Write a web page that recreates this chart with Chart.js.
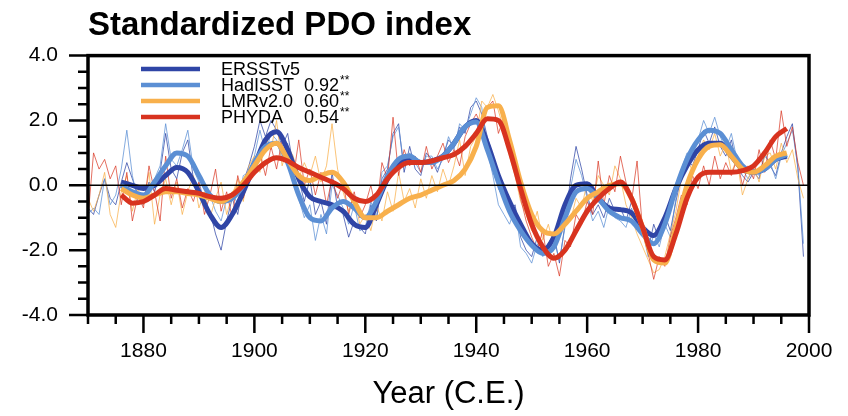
<!DOCTYPE html>
<html>
<head>
<meta charset="utf-8">
<script src="https://cdn.jsdelivr.net/npm/chart.js@4.4.1/dist/chart.umd.min.js"></script>
<style>
  html, body { margin: 0; padding: 0; background: #fff; }
  canvas { display: block; }
</style>
</head>
<body>
<canvas id="pdo" width="848" height="416"></canvas>
<script>
// Series names and correlation with ERSSTv5
const seriesNames = ['ERSSTv5', 'HadISST', 'LMRv2.0', 'PHYDA'];
const corrValues = ['', '0.92', '0.60', '0.54'];

// Axis labels
const xLabelYears = [1880, 1900, 1920, 1940, 1960, 1980, 2000];
const yLabelValues = [-4, -2, 0, 2, 4];

// Annual values, one per year starting in firstYear
const firstYear = 1870;
const ersstAnnual = [
  -0.7, -0.9, -0.3, 0.2, -0.4, -0.6, 0.1, 0.7, 0.2, -0.3,
  -0.5, 0.1, -0.2, 0.4, 1.6, 0.5, 0.2, 1.0, 1.4, 0.2,
  -0.3, -0.6, -0.8, -1.5, -2.0, -1.1, -0.4, -0.9, 0.1, 0.6,
  1.2, 2.0, 1.5, 2.0, 1.7, 1.2, 1.6, 0.6, 0.2, -0.5,
  0.2, -0.9, -0.5, -1.2, 0.4, -0.7, -0.9, -1.6, -1.1, -1.3,
  -1.5, -0.6, -1.1, 0.2, 0.5, 1.6, 1.9, 0.4, 1.2, 0.5,
  0.3, 1.0, 0.8, 0.4, 0.9, 1.4, 1.2, 1.8, 1.6, 2.4,
  2.6, 2.2, 1.5, 0.9, -0.1, -0.4, -0.9, -0.6, -1.6, -2.0,
  -2.2, -1.6, -2.1, -1.8, -1.5, -2.4, -1.2, 0.2, 1.2, 0.5,
  -0.3, -0.9, -0.6, -1.0, -0.4, -0.8, -0.7, -1.1, -0.5, -0.9,
  -1.2, -2.0, -1.2, -1.7, -0.9, -1.4, -0.5, 0.3, 0.8, 0.6,
  1.1, 1.7, 1.3, 1.8, 1.2, 0.9, 1.4, 0.6, 0.3, 0.1,
  0.4, 0.2, 1.0, 0.6, 0.3, 1.0, 1.5, 1.9, 0.5, -2.2
];
const hadisstAnnual = [
  -0.9, -0.7, -0.9, 0.2, -0.6, -0.3, 0.5, 1.7, 0.3, -0.5,
  -0.6, 0.0, 0.2, 0.6, 1.9, 0.8, 0.6, 1.1, 1.7, 0.5,
  0.1, -0.5, -0.3, -0.8, -1.1, -0.4, -0.2, -0.6, 0.3, 0.4,
  0.9, 1.7, 1.0, 1.6, 1.4, 0.8, 1.3, 0.2, -0.4, -1.0,
  -0.6, -1.7, -0.9, -1.5, 0.0, -0.3, -0.7, -1.2, -0.6, -1.4,
  -1.3, -0.5, -1.0, 0.4, 0.6, 1.5, 1.8, 0.6, 1.0, 0.7,
  0.4, 0.9, 0.9, 0.5, 0.8, 1.5, 1.1, 1.9, 1.7, 2.2,
  2.7, 2.4, 1.1, 0.3, -0.6, -0.9, -1.2, -0.7, -1.9, -2.1,
  -2.4, -1.8, -2.2, -2.0, -1.7, -2.3, -1.3, -0.1, 0.8, 0.3,
  -0.4, -1.1, -0.8, -1.3, -0.6, -1.0, -1.1, -1.3, -0.7, -1.2,
  -1.4, -2.2, -1.5, -1.9, -1.2, -1.6, -0.4, 0.5, 1.0, 0.9,
  1.4, 2.0, 1.6, 2.1, 1.5, 1.1, 1.6, 0.8, 0.5, 0.2,
  0.5, 0.3, 0.9, 0.7, 0.2, 0.9, 1.3, 1.7, 0.6, -1.8
];
const lmrAnnual = [
  -0.4, -0.8, -0.3, 0.4, -0.9, -1.3, -0.2, 0.3, -0.8, -0.1,
  -0.6, 0.4, -1.2, -0.3, 0.2, -0.6, 0.1, -0.9, -0.2, 0.3,
  -0.7, -0.2, -1.0, -0.4, 0.1, -0.9, -0.3, 0.2, -0.5, 0.6,
  0.9, 0.4, 1.5, 1.1, 2.0, 0.6, 1.2, 0.9, 0.2, 0.7,
  0.3, 0.9, 0.1, 0.6, 1.9, 0.5, -0.2, -0.8, -0.3, -1.2,
  -0.9, -1.4, -0.6, -1.1, -0.2, -0.8, 0.4, -0.5, -0.1, -0.7,
  0.2, -0.4, 0.3, -0.2, 0.5, 0.0, 0.6, 1.4, 0.3, 1.2,
  1.5, 2.6, 2.4, 2.8, 2.3, 1.7, 0.9, 0.3, -0.5, -0.9,
  -1.4, -0.8, -1.7, -1.2, -1.9, -1.3, -0.8, -1.1, -0.4, -0.7,
  0.1, -0.5, 0.3, 0.0, -0.3, 0.6, 0.2, -0.6, -1.0, -1.5,
  -1.9, -2.3, -2.7, -2.6, -2.2, -1.5, -0.8, 0.2, 0.9, 0.4,
  0.9, 1.4, 1.1, 1.6, 0.9, 1.3, 0.4, 0.8, -0.3, 0.2,
  0.6, 0.1, 0.9, 1.0, 0.5, 1.3, 0.7, 1.1, 0.2, -0.4
];
const phydaAnnual = [
  -1.0, 1.0, 0.5, 0.8, 0.2, 0.6, -0.6, 0.4, -1.1, -0.3,
  -0.7, 0.6, -0.2, -1.1, 0.9, -0.4, 0.2, -0.7, -0.1, -0.5,
  0.1, -0.9, -0.3, 0.5, -0.8, -0.2, -1.0, 0.3, -0.4, 0.2,
  0.6, 1.0, 0.3, 1.2, 0.5, 1.4, 0.8, 0.2, 1.4, 0.0,
  0.5, -0.3, 0.4, -0.6, 0.2, -0.4, 0.1, -0.9, -0.2, -1.0,
  -0.6, 0.0, -0.8, 0.7, 0.2, 2.1, 0.3, 1.1, 0.6, 0.9,
  0.4, 1.2, 0.5, 0.9, 1.3, 0.7, 1.1, 0.6, 1.5, 1.9,
  2.2, 1.8, 2.4, 2.6, 1.6, 2.1, 1.0, 0.5, -0.4, -1.1,
  -1.6, -2.0, -1.4, -2.5, -2.1, -2.8, -1.7, -1.9, -0.9, -1.2,
  -0.5, -0.9, 0.75, -0.6, 0.3, -0.2, 0.9, 0.1, -0.5, 0.75,
  -1.4, -2.1, -2.9, -2.2, -2.5, -1.6, -1.0, -0.3, -0.6, 0.3,
  -0.1, 0.6, 0.0, 0.9, 0.2, 0.7, 0.3, 0.8, 0.0, 0.6,
  0.2, 1.1, 0.4, 1.4, 0.8, 2.3, 1.2, 1.8, 0.7, 0.0
];

// Low-pass filtered values at every second year
const smoothYears = [
  1876, 1878, 1880, 1882, 1884, 1886, 1888, 1890, 1892, 1894,
  1896, 1898, 1900, 1902, 1904, 1906, 1908, 1910, 1912, 1914,
  1916, 1918, 1920, 1922, 1924, 1926, 1928, 1930, 1932, 1934,
  1936, 1938, 1940, 1942, 1944, 1946, 1948, 1950, 1952, 1954,
  1956, 1958, 1960, 1962, 1964, 1966, 1968, 1970, 1972, 1974,
  1976, 1978, 1980, 1982, 1984, 1986, 1988, 1990, 1992, 1994,
  1996
];
const ersstSmooth = [
  0.1, 0.0, -0.1, 0.0, 0.3, 0.55, 0.4, -0.2, -0.9, -1.3,
  -0.9, -0.2, 0.6, 1.4, 1.65, 1.1, 0.2, -0.35, -0.5, -0.6,
  -0.8, -1.2, -1.3, -0.6, 0.2, 0.7, 0.85, 0.7, 0.75, 0.9,
  1.3, 1.8, 2.0, 1.3, 0.3, -0.5, -1.2, -1.8, -2.0, -1.6,
  -0.6, 0.0, 0.05, -0.4, -0.7, -0.75, -0.85, -1.3, -1.55, -1.0,
  -0.1, 0.6, 1.1, 1.3, 1.3, 0.9, 0.5, 0.4, 0.5, 0.8,
  0.9
];
const hadisstSmooth = [
  0.0, -0.2, -0.3, 0.1, 0.6, 1.0, 0.9, 0.3, -0.3, -0.5,
  -0.4, 0.0, 0.7, 1.2, 1.3, 0.7, -0.3, -1.0, -1.1, -0.7,
  -0.5, -0.7, -1.0, -0.5, 0.3, 0.8, 0.9, 0.7, 0.7, 0.9,
  1.3, 1.8, 1.95, 1.1, 0.1, -0.8, -1.4, -1.85, -2.1, -1.9,
  -1.0, -0.2, -0.1, -0.4, -0.8, -1.0, -1.1, -1.5, -1.8, -1.2,
  -0.1, 0.8, 1.4, 1.7, 1.6, 1.1, 0.6, 0.4, 0.5, 0.8,
  0.95
];
const lmrSmooth = [
  -0.1, -0.3, -0.4, -0.3, -0.2, -0.2, -0.25, -0.3, -0.4, -0.5,
  -0.3, 0.1, 0.6, 1.1, 1.3, 0.8, 0.3, 0.15, 0.3, 0.4,
  0.1, -0.5, -1.0, -1.0, -0.8, -0.6, -0.4, -0.3, -0.15, 0.0,
  0.15, 0.5, 1.2, 2.4, 2.45, 1.4, 0.1, -0.9, -1.4, -1.5,
  -1.2, -0.8, -0.4, -0.2, 0.0, 0.05, -0.4, -1.3, -2.3, -2.4,
  -1.3, 0.0, 0.8, 1.2, 1.25, 0.9, 0.5, 0.4, 0.6, 0.9,
  1.0
];
const phydaSmooth = [
  -0.3, -0.55, -0.5, -0.3, -0.1, -0.15, -0.2, -0.25, -0.35, -0.4,
  -0.3, 0.0, 0.4, 0.7, 0.85, 0.75, 0.55, 0.4, 0.25, 0.1,
  -0.1, -0.4, -0.5, -0.3, 0.2, 0.55, 0.7, 0.7, 0.75, 0.85,
  0.95, 1.2, 1.6, 2.05, 2.0, 1.1, -0.1, -1.2, -1.9, -2.25,
  -2.0, -1.4, -0.8, -0.4, -0.1, 0.1, -0.4, -1.3, -2.2, -2.3,
  -1.5, -0.4, 0.25, 0.4, 0.4, 0.4, 0.45, 0.6, 1.0, 1.5,
  1.75
];

const FONT = "'Liberation Sans', Arial, Helvetica, sans-serif";

const lineColors = ['#2f45a6', '#5b8fd4', '#f8b04c', '#d8331f'];
const thinColors = ['rgba(47,69,166,0.75)', 'rgba(91,143,212,0.75)', 'rgba(248,176,76,0.75)', 'rgba(216,51,31,0.7)'];

const annualSets = [ersstAnnual, hadisstAnnual, lmrAnnual, phydaAnnual];
const smoothSets = [ersstSmooth, hadisstSmooth, lmrSmooth, phydaSmooth];

function annualPoints(values) {
  return values.map((v, i) => ({ x: firstYear + i, y: v }));
}
function smoothPoints(values) {
  return values.map((v, i) => ({ x: smoothYears[i], y: v }));
}

const datasets = [];
// thick filtered curves; PHYDA on top
smoothSets.forEach((vals, i) => {
  datasets.push({
    label: seriesNames[i],
    data: smoothPoints(vals),
    borderColor: lineColors[i],
    borderWidth: 5,
    pointRadius: 0,
    cubicInterpolationMode: 'monotone',
    order: 4 - i,
    isSmooth: true
  });
});
// thin annual curves underneath
annualSets.forEach((vals, i) => {
  datasets.push({
    label: seriesNames[i] + ' annual',
    data: annualPoints(vals),
    borderColor: thinColors[i],
    borderWidth: 1,
    pointRadius: 0,
    tension: 0,
    order: 20 - i
  });
});

const axesAndLegend = {
  id: 'axesAndLegend',
  afterDatasetsDraw(chart) {
    const { ctx, chartArea: a, scales } = chart;
    const y0 = scales.y.getPixelForValue(0);
    ctx.save();
    ctx.strokeStyle = '#000';
    ctx.lineWidth = 1.6;
    ctx.beginPath();
    ctx.moveTo(a.left, y0);
    ctx.lineTo(a.right, y0);
    ctx.stroke();
    ctx.restore();
  },
  afterDraw(chart) {
    const { ctx, chartArea: a, scales } = chart;
    ctx.save();
    ctx.strokeStyle = '#000';

    // tick marks pointing outward
    ctx.lineWidth = 2.5;
    ctx.beginPath();
    scales.y.ticks.forEach(t => {
      const py = scales.y.getPixelForValue(t.value);
      const len = yLabelValues.includes(t.value) ? 19 : 10;
      ctx.moveTo(a.left, py);
      ctx.lineTo(a.left - len, py);
    });
    scales.x.ticks.forEach(t => {
      const px = scales.x.getPixelForValue(t.value);
      const len = xLabelYears.includes(t.value) ? 18 : 9;
      ctx.moveTo(px, a.bottom);
      ctx.lineTo(px, a.bottom + len);
    });
    ctx.stroke();

    // plot frame
    ctx.lineWidth = 3.5;
    ctx.strokeRect(a.left, a.top, a.right - a.left, a.bottom - a.top);

    // legend
    const lx0 = 141, lx1 = 200, tx = 221, vx = 304;
    const rowY = [69, 85, 101, 117];
    chart.data.datasets.filter(d => d.isSmooth).forEach((d, i) => {
      const y = rowY[i];
      ctx.strokeStyle = d.borderColor;
      ctx.lineWidth = 4.5;
      ctx.beginPath();
      ctx.moveTo(lx0, y);
      ctx.lineTo(lx1, y);
      ctx.stroke();
      ctx.fillStyle = '#000';
      ctx.textBaseline = 'middle';
      ctx.textAlign = 'left';
      ctx.font = '18px ' + FONT;
      ctx.fillText(d.label, tx, y + 1);
      if (corrValues[i]) {
        ctx.fillText(corrValues[i], vx, y + 1);
        const w = ctx.measureText(corrValues[i]).width;
        ctx.font = '12px ' + FONT;
        ctx.fillText('**', vx + w + 1, y - 4);
      }
    });
    ctx.restore();
  }
};

new Chart(document.getElementById('pdo'), {
  type: 'line',
  data: { datasets },
  options: {
    responsive: false,
    animation: false,
    devicePixelRatio: 1,
    layout: { padding: { left: 0, right: 39, top: 0, bottom: 0 } },
    plugins: {
      legend: { display: false },
      tooltip: { enabled: false },
      title: {
        display: true,
        text: 'Standardized PDO index',
        align: 'start',
        fullSize: false,
        color: '#000',
        font: { family: FONT, size: 33, weight: 'bold', lineHeight: 1.2 },
        padding: { top: 6, bottom: 10 }
      }
    },
    scales: {
      x: {
        type: 'linear',
        min: 1870,
        max: 2000,
        border: { display: false },
        grid: { display: false, drawTicks: false },
        ticks: {
          stepSize: 5,
          autoSkip: false,
          maxRotation: 0,
          padding: 24,
          color: '#000',
          font: { family: FONT, size: 21 },
          callback: v => (xLabelYears.includes(v) ? String(v) : '')
        },
        title: {
          display: true,
          text: 'Year (C.E.)',
          color: '#000',
          font: { family: FONT, size: 31, lineHeight: 1.2 },
          padding: { top: 0, bottom: 3 }
        },
        afterFit: s => { s.height = 101; s.paddingLeft = 0; s.paddingRight = 0; }
      },
      y: {
        min: -4,
        max: 4,
        border: { display: false },
        grid: { display: false, drawTicks: false },
        ticks: {
          stepSize: 0.5,
          autoSkip: false,
          padding: 30,
          color: '#000',
          font: { family: FONT, size: 21 },
          callback: v => (yLabelValues.includes(v) ? v.toFixed(1) : '')
        },
        afterFit: s => { s.width = 88; }
      }
    }
  },
  plugins: [axesAndLegend]
});
</script>
</body>
</html>
